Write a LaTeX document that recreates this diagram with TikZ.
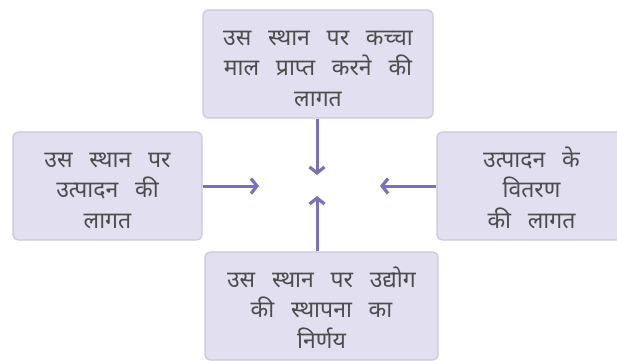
\documentclass[tikz,border=0pt]{standalone}
\usepackage{fontspec}
\newfontfamily\devfont[Script=Devanagari,WordSpace=2.8]{Noto Sans}
\usetikzlibrary{arrows.meta}
\usetikzlibrary{positioning}
\definecolor{boxfill}{HTML}{E1DFF0}
\definecolor{boxline}{HTML}{C9C8D6}
\definecolor{arrowcol}{HTML}{7A71B7}
\definecolor{textcol}{HTML}{4C4C4C}

\begin{document}
\begin{tikzpicture}[x=1pt,y=1pt]
\tikzset{costbox/.style={rectangle,rounded corners=5pt,draw=boxline,line width=1.2pt,fill=boxfill,minimum height=108pt,text=textcol,align=center,font=\devfont\fontsize{23}{30.5}\selectfont,inner sep=0pt,text height=84pt,text depth=0pt}}
\tikzset{pull/.style={draw=arrowcol,line width=3pt,-{Straight Barb[length=6pt,width=15pt,line width=3.2pt]}}}
\useasboundingbox (0,0) rectangle (617,360);
\coordinate (hub) at (317,174);
\node[costbox,minimum width=230pt](top) at (318,296){उस स्थान पर कच्चा\\माल प्राप्त करने की\\लागत};
\node[costbox,minimum width=189pt](left) at (107.5,174){उस स्थान पर\\उत्पादन की\\लागत};
\node[costbox,minimum width=189pt](right) at (531.5,174){उत्पादन के\\वितरण\\की लागत};
\node[costbox,minimum width=233pt](bottom) at (321.5,54){उस स्थान पर उद्योग\\की स्थापना का\\निर्णय};
% arrows meet near the middle
\coordinate (tipN) at ([yshift=11pt]hub);
\coordinate (tipS) at ([yshift=-10pt]hub);
\coordinate (tipW) at ([xshift=-58pt]hub);
\coordinate (tipE) at ([xshift=63pt]hub);
\draw[pull](top.south -| hub) -- (tipN);
\draw[pull](bottom.north -| hub) -- (tipS);
\draw[pull](left.east) -- (tipW);
\draw[pull](right.west) -- (tipE);
\end{tikzpicture}
\end{document}
